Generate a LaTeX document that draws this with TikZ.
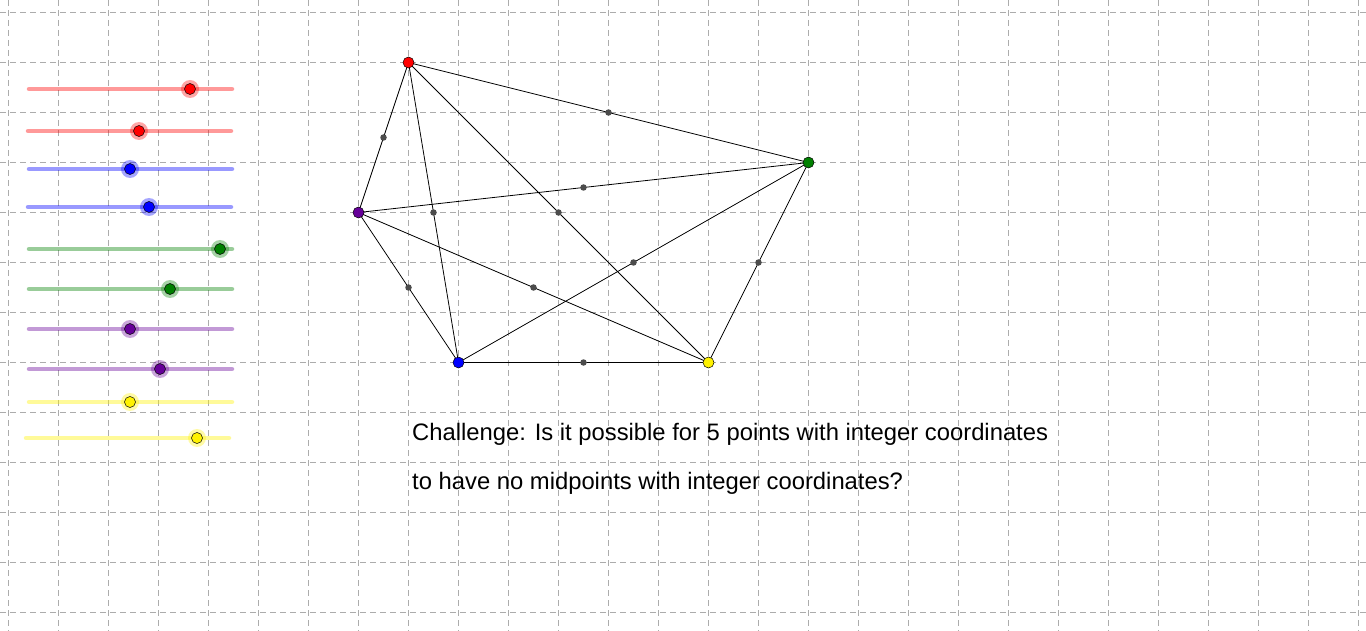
\documentclass[tikz,border=0pt]{standalone}
\usepackage{fontspec}
\setmainfont{Liberation Sans}
\usetikzlibrary{calc}
\definecolor{pur}{RGB}{102,0,153}
\definecolor{grn}{RGB}{0,128,0}
\begin{document}
\begin{tikzpicture}[x=1pt,y=-1pt,
  gridl/.style={draw=gray!65,line width=0.8pt,dash pattern=on 6pt off 4pt},
  pt/.style={circle,draw=black,line width=0.5pt,inner sep=0pt,minimum size=11pt},
  mid/.style={circle,fill=black!70,inner sep=0pt,minimum size=6.5pt},
  edge/.style={draw=black,line width=0.8pt},
  track/.style={line width=4.5pt,line cap=round}]
\useasboundingbox (0,0) rectangle (1366,631);
\foreach \i in {0,...,27} \draw[gridl] (8+50*\i,0) -- (8+50*\i,631);
\foreach \j in {0,...,12} \draw[gridl] (0,12.5+50*\j) -- (1366,12.5+50*\j);
% sliders
\foreach \y/\c/\k/\a/\b [count=\n] in {89/red/190/29/232,131/red/139/28/231,169/blue/130/29/232,207/blue/149/28/231,249/grn/220/29/232,289/grn/170/29/232,329/pur/130/29/232,369/pur/160/29/232,402/yellow/130/29/232,438/yellow/197/26/229}{
  \draw[track,\c,opacity=0.4] (\a,\y) -- (\b,\y);
  \fill[\c,opacity=0.35] (\k,\y) circle (9);
  \node[pt,fill=\c] (s\n) at (\k,\y) {};
}
% points
\coordinate (R) at (408.5,62.5);
\coordinate (G) at (808.5,162.5);
\coordinate (P) at (358.5,212.5);
\coordinate (B) at (458.5,362.5);
\coordinate (Y) at (708.5,362.5);
\foreach \u/\v in {R/G,R/P,R/B,R/Y,G/P,G/B,G/Y,P/B,P/Y,B/Y}{
  \draw[edge] (\u) -- (\v);
  \node[mid] (m\u\v) at ($(\u)!0.5!(\v)$) {};
}
\node[pt,fill=red] (nR) at (R) {};
\node[pt,fill=grn] (nG) at (G) {};
\node[pt,fill=pur] (nP) at (P) {};
\node[pt,fill=blue] (nB) at (B) {};
\node[pt,fill=yellow] (nY) at (Y) {};
\node[anchor=base west,inner sep=0pt,font=\fontsize{23.8}{28}\selectfont] (t1) at (412,440) {Challenge: Is it possible for 5 points with integer coordinates};
\node[anchor=base west,inner sep=0pt,font=\fontsize{23.8}{28}\selectfont] (t2) at (412,489) {to have no midpoints with integer coordinates?};
\end{tikzpicture}
\end{document}
